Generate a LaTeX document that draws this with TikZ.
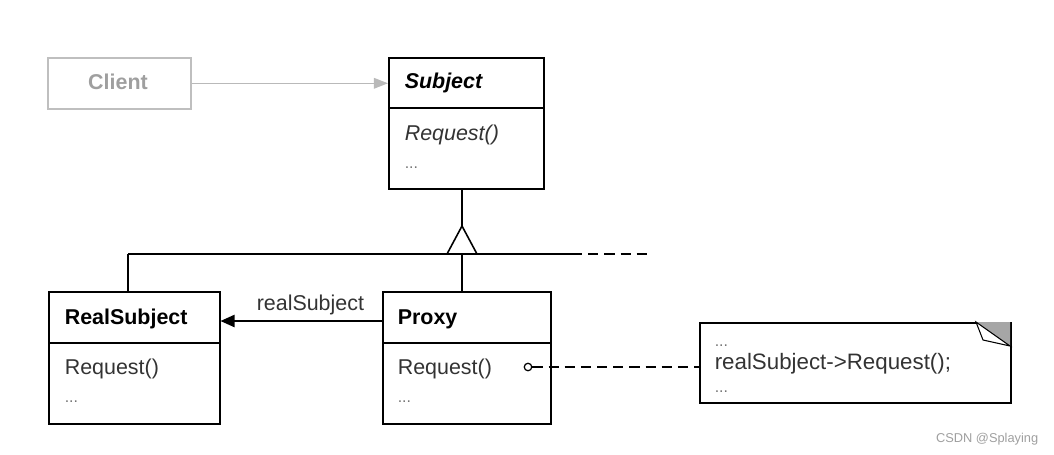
\documentclass[tikz,border=0pt]{standalone}
\usepackage{fontspec}
\setmainfont{Liberation Sans}
\usetikzlibrary{calc}
\usetikzlibrary{arrows.meta}

\begin{document}
\begin{tikzpicture}[x=0.02cm, y=-0.02cm, line width=0.9pt,
  classbox/.style={draw, anchor=north west, inner sep=0pt},
  classname/.style={anchor=base west, inner sep=0pt, font=\bfseries\fontsize{12.2}{14}\selectfont},
  oper/.style={anchor=base west, inner sep=0pt, font=\fontsize{12.2}{14}\selectfont, black!80},
  more/.style={anchor=base west, inner sep=0pt, font=\fontsize{9}{11}\selectfont, black!55},
  dashline/.style={dash pattern=on 5.8pt off 3.4pt}]
\useasboundingbox (0,0) rectangle (1054,454);

\node[classbox, gray!50, minimum width=2.86cm, minimum height=1.02cm] (client) at (47,57) {};
\node[anchor=base, inner sep=0pt, text=gray!75, font=\bfseries\fontsize{12.2}{14}\selectfont] (clientname) at (118,89) {Client};

\node[classbox, minimum width=3.1cm, minimum height=2.62cm] (subject) at (388,57) {};
\draw ($(subject.north west)+(0,51)$) -- ($(subject.north east)+(0,51)$);
\node[classname, font=\bfseries\itshape\fontsize{12.2}{14}\selectfont] (subjectname) at (404,88) {Subject};
\node[oper, font=\itshape\fontsize{12.2}{14}\selectfont] (subjectop) at (404,140) {Request()};
\node[more] (subjectmore) at (404,168) {...};

\node[classbox, minimum width=3.42cm, minimum height=2.64cm] (realsubject) at (48,291) {};
\draw ($(realsubject.north west)+(0,52)$) -- ($(realsubject.north east)+(0,52)$);
\node[classname] (realname) at (64,324) {RealSubject};
\node[oper] (realop) at (64,374) {Request()};
\node[more] (realmore) at (64,402) {...};

\node[classbox, minimum width=3.36cm, minimum height=2.64cm] (proxy) at (382,291) {};
\draw ($(proxy.north west)+(0,52)$) -- ($(proxy.north east)+(0,52)$);
\node[classname] (proxyname) at (397,324) {Proxy};
\node[oper] (proxyop) at (397,374) {Request()};
\node[more] (proxymore) at (397,402) {...};

\node[classbox, minimum width=6.22cm, minimum height=1.6cm] (note) at (699,322) {};
\fill[gray!70] (976,322) -- (1010,322) -- (1010,346) -- cycle;
\draw[line width=0.6pt, fill=white] (976,322) -- (983,340) -- (1010,346) -- cycle;
\node[more] (notemore) at (714,346) {...};
\node[oper, font=\fontsize{12.7}{14}\selectfont] (notecode) at (714,369) {realSubject->Request();};
\node[more] (notemore2) at (714,392) {...};

\draw[gray!55, -{Triangle[length=8pt, width=6pt]}] (client.east) -- (client.east -| subject.west);

\coordinate (apex) at (462,226);
\coordinate (barleft) at (128,254);
\coordinate (barright) at (572,254);
\coordinate (barend) at (650,254);
\draw (apex |- subject.south) -- (apex);
\draw (barleft) -- (barright);
\draw[dashline] (barright) -- (barend);
\draw (barleft) -- (barleft |- realsubject.north);
\draw (apex |- barleft) -- (apex |- proxy.north);
\draw[fill=white] (apex) -- ++(15,28) -- ++(-30,0) -- cycle;

\draw[-{Triangle[length=8pt, width=7pt]}] ($(proxy.north west)+(0,30)$) -- ($(realsubject.north east)+(0,30)$);
\node[oper] (assoclabel) at (256,310) {realSubject};

\node[circle, draw, line width=0.7pt, inner sep=0pt, minimum size=0.15cm] (pin) at (528,367) {};
\draw[dashline] (pin.east) -- (pin.east -| note.west);

\node[anchor=base east, inner sep=0pt, text=gray!75, font=\fontsize{7.3}{9}\selectfont] (mark) at (1039,442) {CSDN @Splaying};
\end{tikzpicture}
\end{document}
